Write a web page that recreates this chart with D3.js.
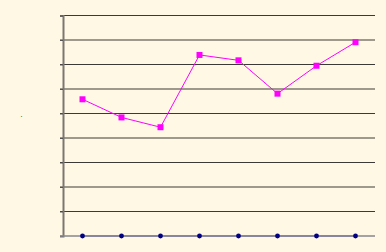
<!DOCTYPE html>
<html>
<head>
<meta charset="utf-8">
<script src="https://cdn.jsdelivr.net/npm/d3@7"></script>
<style>
  html, body { margin: 0; padding: 0; background: #fdf5de; }
  svg { display: block; }
</style>
</head>
<body>
<script>
"use strict";
(function(){
    // data
    const categories = ["1", "2", "3", "4", "5", "6", "7", "8"]
    const seriesA = [55.8, 48.4, 44.4, 73.9, 71.7, 58.1, 69.5, 79.1]
    const seriesB = [0, 0, 0, 0, 0, 0, 0, 0]
    const yTicks = [0, 10, 20, 30, 40, 50, 60, 70, 80, 90]

    const measurements = {
        width: 386,
        height: 252,
        left: 63,
        right: 375,
        top: 15.5,
        bottom: 236
    }

    let svg = d3.select('body').append('svg')
        .attr('width', measurements.width)
        .attr('height', measurements.height)

    // parchment texture
    let defs = svg.append('defs')
    let filter = defs.append('filter').attr('id', 'paper')
        .attr('x', 0).attr('y', 0).attr('width', '100%').attr('height', '100%')
    filter.append('feTurbulence')
        .attr('type', 'fractalNoise')
        .attr('baseFrequency', 0.04)
        .attr('numOctaves', 3)
        .attr('seed', 4)
    filter.append('feColorMatrix')
        .attr('type', 'matrix')
        .attr('values', '0 0 0 0 0.98  0 0 0 0 0.92  0 0 0 0 0.78  0 0 0 0.2 0')
    svg.append('rect')
        .attr('width', measurements.width)
        .attr('height', measurements.height)
        .attr('fill', '#fff8e4')
    svg.append('rect')
        .attr('width', measurements.width)
        .attr('height', measurements.height)
        .attr('filter', 'url(#paper)')

    let scaleX = d3.scalePoint()
        .domain(categories)
        .range([measurements.left, measurements.right])
        .padding(0.5)

    let scaleY = d3.scaleLinear()
        .domain([0, 90])
        .range([measurements.bottom, measurements.top])

    // gridlines
    svg.append('g')
        .selectAll('line')
        .data(yTicks.slice(1))
        .enter()
        .append('line')
        .attr('x1', measurements.left - 3)
        .attr('x2', measurements.right)
        .attr('y1', d => scaleY(d))
        .attr('y2', d => scaleY(d))
        .attr('stroke', '#3c3a36')
        .attr('stroke-width', 1.2)

    // y axis
    let yAxis = d3.axisLeft(scaleY)
        .tickValues(yTicks)
        .tickSize(3)
        .tickFormat('')
    let gy = svg.append('g')
        .attr('transform', `translate(${measurements.left}, 0)`)
        .call(yAxis)
    gy.select('.domain').attr('stroke', '#7a7770').attr('stroke-width', 2)
    gy.selectAll('.tick line').attr('stroke', '#555')

    // x axis line
    svg.append('line')
        .attr('x1', measurements.left - 3)
        .attr('x2', measurements.right)
        .attr('y1', measurements.bottom)
        .attr('y2', measurements.bottom)
        .attr('stroke', '#86868e')
        .attr('stroke-width', 1.6)

    // stray dot left of the axis
    svg.append('text')
        .attr('x', 20.5)
        .attr('y', 117)
        .attr('font-family', 'Arial, Liberation Sans, sans-serif')
        .attr('font-size', 7)
        .attr('fill', '#000')
        .text('.')

    let lineGen = d3.line()
        .x((d, i) => scaleX(categories[i]))
        .y(d => scaleY(d))

    // series B (navy, all zero)
    svg.append('path')
        .datum(seriesB)
        .attr('d', lineGen)
        .attr('fill', 'none')
        .attr('stroke', '#000080')
        .attr('stroke-opacity', 0.35)
        .attr('stroke-width', 1)
    svg.append('g')
        .selectAll('circle')
        .data(seriesB)
        .enter()
        .append('circle')
        .attr('cx', (d, i) => scaleX(categories[i]))
        .attr('cy', d => scaleY(d))
        .attr('r', 2.4)
        .attr('fill', '#000080')

    // series A (magenta)
    svg.append('path')
        .datum(seriesA)
        .attr('d', lineGen)
        .attr('fill', 'none')
        .attr('stroke', '#ff00ff')
        .attr('stroke-width', 1)
    svg.append('g')
        .selectAll('rect')
        .data(seriesA)
        .enter()
        .append('rect')
        .attr('x', (d, i) => scaleX(categories[i]) - 3)
        .attr('y', d => scaleY(d) - 3)
        .attr('width', 6)
        .attr('height', 6)
        .attr('fill', '#ff00ff')
})()
</script>
</body>
</html>
